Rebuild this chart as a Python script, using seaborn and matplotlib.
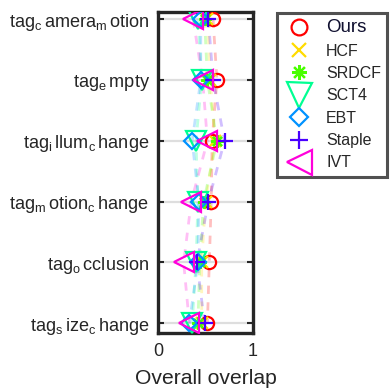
import numpy as np
import pandas as pd
import matplotlib
matplotlib.use("Agg")
import matplotlib.pyplot as plt
import seaborn as sns

categories = ["tag_camera_motion", "tag_empty", "tag_illum_change",
              "tag_motion_change", "tag_occlusion", "tag_size_change"]
category_labels = [r"tag$_c\,$amera$_m\,$otion", r"tag$_e\,$mpty", r"tag$_i\,$llum$_c\,$hange",
                   r"tag$_m\,$otion$_c\,$hange", r"tag$_o\,$cclusion", r"tag$_s\,$ize$_c\,$hange"]
trackers = ["Ours", "HCF", "SRDCF", "SCT4", "EBT", "Staple", "IVT"]

ours = [0.58, 0.62, 0.57, 0.56, 0.54, 0.52]
hcf = [0.52, 0.55, 0.60, 0.50, 0.46, 0.46]
srdcf = [0.49, 0.52, 0.62, 0.48, 0.44, 0.42]
sct4 = [0.42, 0.46, 0.40, 0.42, 0.40, 0.36]
ebt = [0.45, 0.45, 0.36, 0.43, 0.42, 0.33]
staple = [0.53, 0.58, 0.70, 0.53, 0.41, 0.49]
ivt = [0.37, 0.47, 0.52, 0.35, 0.27, 0.33]

x_ticks = [0, 1]
x_label = "Overall overlap"

series = [ours, hcf, srdcf, sct4, ebt, staple, ivt]
colors = [(1, 0, 0), (1, 0.857, 0), (0.286, 1, 0), (0, 1, 0.571),
          (0, 0.571, 1), (0.286, 0, 1), (1, 0, 0.857)]
markers = ["o", "x", (8, 2, 0), "v", "D", "+", "<"]
msizes = [9.5, 8, 9, 15, 8, 11, 15]
filled = [True, False, False, True, True, False, True]

sns.set_theme(style="white")
plt.rcParams["font.family"] = ["Liberation Sans", "DejaVu Sans"]
plt.rcParams["mathtext.default"] = "regular"

rows = []
for name, vals in zip(trackers, series):
    for i, v in enumerate(vals):
        rows.append({"tracker": name, "pos": i, "value": v})
df = pd.DataFrame(rows)

fig = plt.figure(figsize=(3.91, 3.92), dpi=100)
ax = fig.add_axes([158 / 391, 1 - 333 / 392, 95 / 391, 321 / 392])

for y in range(len(categories)):
    ax.axhline(y, color="#dedede", lw=1.6, zorder=0)

for k, name in enumerate(trackers):
    sub = df[df.tracker == name]
    sns.lineplot(data=sub, x="value", y="pos", orient="y", sort=False, estimator=None,
                 color=colors[k], alpha=0.25, lw=2.0, dashes=False, ax=ax,
                 linestyle=(0, (3, 3)), zorder=2)
for k, name in enumerate(trackers):
    sub = df[df.tracker == name]
    kw = dict(marker=markers[k], ms=msizes[k], mew=1.6, linestyle="", color=colors[k],
              mec=colors[k])
    if filled[k]:
        kw.update(mfc="none")
    sns.lineplot(data=sub, x="value", y="pos", orient="y", sort=False, estimator=None,
                 ax=ax, label=name, zorder=3, **kw)

ax.set_xlim(0, 1)
ax.set_ylim(5.16, -0.12)
ax.set_xticks(x_ticks)
ax.set_xticklabels([str(t) for t in x_ticks])
ax.set_yticks(range(len(categories)))
ax.set_yticklabels(category_labels)
ax.set_xlabel(x_label, fontsize=15.2, labelpad=7)
ax.set_ylabel("")
ax.tick_params(axis="y", direction="in", length=4, width=1.5, left=True, right=True,
               labelsize=13.1, pad=6, color="#262626")
ax.tick_params(axis="x", direction="in", length=0, labelsize=13, pad=7)
for s in ax.spines.values():
    s.set_linewidth(2.4)
    s.set_color("#262626")

h, l = ax.get_legend_handles_labels()
if ax.legend_:
    ax.legend_.remove()
leg = fig.legend(h, l, loc="upper left", bbox_to_anchor=(277 / 391, 1 - 13 / 392),
                 borderaxespad=0, frameon=True, fancybox=False, fontsize=11.5,
                 handlelength=1.95, handletextpad=0.72, labelspacing=0.46,
                 borderpad=0.4, markerscale=1.2)
leg.get_frame().set_edgecolor("#262626")
leg.get_frame().set_linewidth(2.2)
leg.get_texts()[0].set_fontsize(13.5)
leg.get_texts()[0].set_color("#101030")

fig.savefig("out.png", dpi=100)
